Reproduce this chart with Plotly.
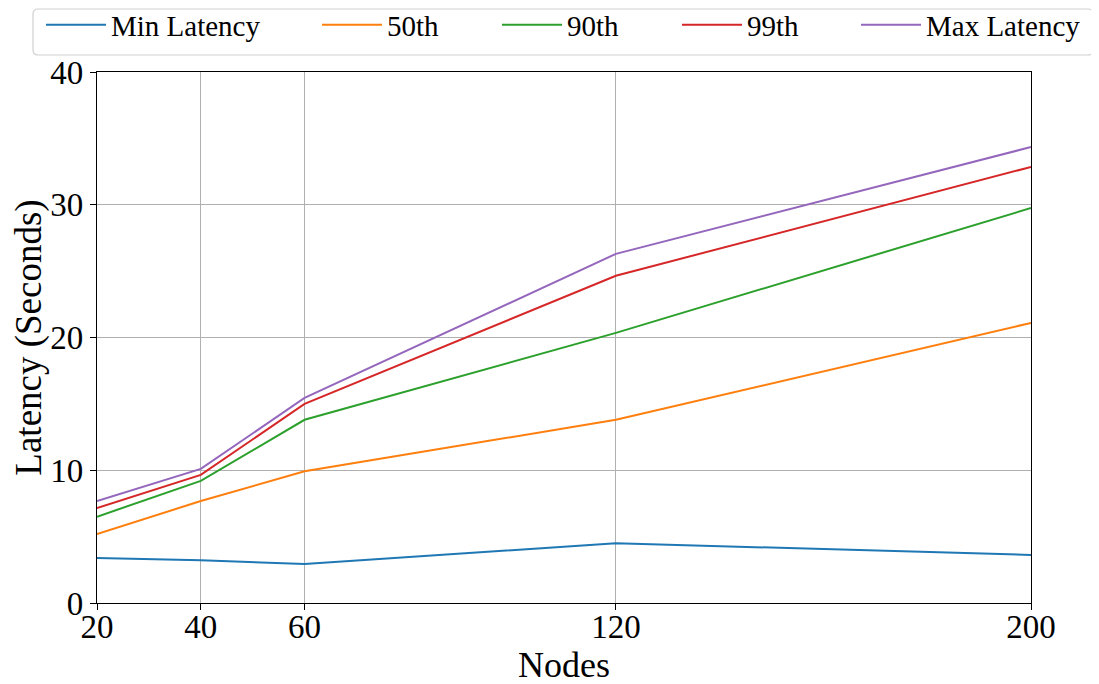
import plotly.graph_objects as go

nodes = [20, 40, 60, 120, 200]
min_latency = [3.39, 3.22, 2.94, 4.50, 3.62]
p50 = [5.20, 7.68, 9.92, 13.80, 21.10]
p90 = [6.50, 9.20, 13.80, 20.35, 29.75]
p99 = [7.15, 9.65, 15.00, 24.65, 32.85]
max_latency = [7.68, 10.10, 15.45, 26.30, 34.35]

series = [
    ("Min Latency", min_latency, "#1f77b4"),
    ("50th", p50, "#ff7f0e"),
    ("90th", p90, "#2ca02c"),
    ("99th", p99, "#d62728"),
    ("Max Latency", max_latency, "#9467bd"),
]
legend_ids = ["legend", "legend2", "legend3", "legend4", "legend5"]
legend_px = [44, 320, 500, 680, 859]  # left pixel of each legend entry line (page)

FONT = "Liberation Serif"
OFF = 8  # page body margin
W, H = 1099, 684
PW, PH = 934, 531
L, T = 97 - OFF, 72 - OFF
R, B = W - L - PW, H - T - PH

def px_x(p):  # page pixel -> paper x
    return (p - OFF - L) / PW

def px_y(p):  # page pixel -> paper y
    return (T + PH - (p - OFF)) / PH

fig = go.Figure()
for (name, vals, color), lid in zip(series, legend_ids):
    fig.add_trace(go.Scatter(x=nodes, y=vals, mode="lines", name=name,
                             line=dict(color=color, width=2), legend=lid))

axis_common = dict(
    showline=True, linecolor="black", linewidth=1.2, mirror=True,
    ticks="outside", ticklen=6, tickcolor="black",
    showgrid=True, gridcolor="#b0b0b0", gridwidth=1,
    zeroline=False,
    tickfont=dict(family=FONT, size=33, color="black"),
)

layout_legends = {}
for lid, px in zip(legend_ids, legend_px):
    layout_legends[lid] = dict(
        orientation="h", x=px_x(px - 3), xanchor="left",
        y=px_y(25), yanchor="middle",
        borderwidth=0, bgcolor="rgba(0,0,0,0)",
        font=dict(family=FONT, size=29), itemwidth=60,
    )

fig.update_layout(
    width=W, height=H,
    margin=dict(l=L, r=R, t=T, b=B, autoexpand=False),
    plot_bgcolor="white", paper_bgcolor="white",
    font=dict(family=FONT, color="black"),
    xaxis=dict(**axis_common, range=[20, 200], tickvals=nodes, ticklabelstandoff=-12,
               title=dict(text="Nodes", font=dict(family=FONT, size=36), standoff=6)),
    yaxis=dict(**axis_common, range=[0, 40], tickvals=[0, 10, 20, 30, 40],
               title=dict(text="Latency (Seconds)", font=dict(family=FONT, size=37), standoff=0)),
    showlegend=True,
    **layout_legends,
)

# legend frame with rounded corners
x0, x1 = px_x(33), px_x(1093)
y0, y1 = px_y(55), px_y(9)
rx, ry = 5 / PW, 5 / PH
path = (f"M{x0 + rx},{y1} L{x1 - rx},{y1} Q{x1},{y1} {x1},{y1 - ry} "
        f"L{x1},{y0 + ry} Q{x1},{y0} {x1 - rx},{y0} L{x0 + rx},{y0} "
        f"Q{x0},{y0} {x0},{y0 + ry} L{x0},{y1 - ry} Q{x0},{y1} {x0 + rx},{y1} Z")
fig.add_shape(type="path", xref="paper", yref="paper", path=path,
              line=dict(color="#d0d0d0", width=1.2), fillcolor="rgba(0,0,0,0)",
              layer="below")

fig.write_html("out.html")
